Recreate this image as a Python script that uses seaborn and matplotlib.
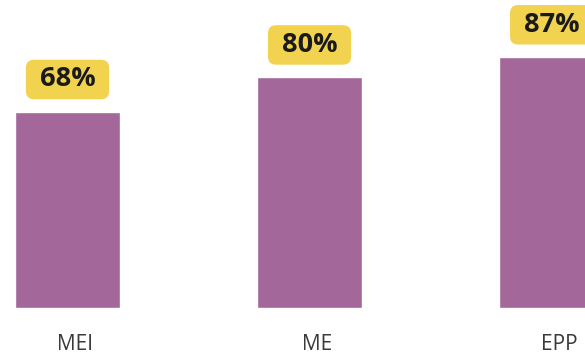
import matplotlib
matplotlib.use("Agg")
import matplotlib.pyplot as plt
import seaborn as sns
import pandas as pd

# Data
categories = ["MEI", "ME", "EPP"]
values = [68, 80, 87]
labels = ["68%", "80%", "87%"]

df = pd.DataFrame({"Categoria": categories, "Valor": values})

sns.set_style("white")
plt.rcParams["font.family"] = ["Open Sans", "DejaVu Sans"]

fig = plt.figure(figsize=(5.85, 3.56), dpi=100)
ax = fig.add_axes([0, 0, 1, 1])

sns.barplot(x="Categoria", y="Valor", data=df, color="#a4679a", width=0.434,
            saturation=1, ax=ax)

# Value labels in rounded yellow boxes
for i, (v, lab) in enumerate(zip(values, labels)):
    ax.text(i, v + 11.3, " " + lab + " ", ha="center", va="center", fontsize=19.5,
            fontweight="bold", color="#1a1a1a",
            bbox=dict(boxstyle="round,pad=0.25,rounding_size=0.3", fc="#f2d350", ec="none"))

# Category names under the bars
for i, c in enumerate(categories):
    ax.text(i + 0.03, -12.8, c, ha="center", va="center", fontsize=15, color="#3a3a3a")

ax.set_xlim(-0.279, 2.138)
ax.set_ylim(-16.7, 106.9)
ax.axis("off")

plt.savefig("out.png", dpi=100)
plt.close()
